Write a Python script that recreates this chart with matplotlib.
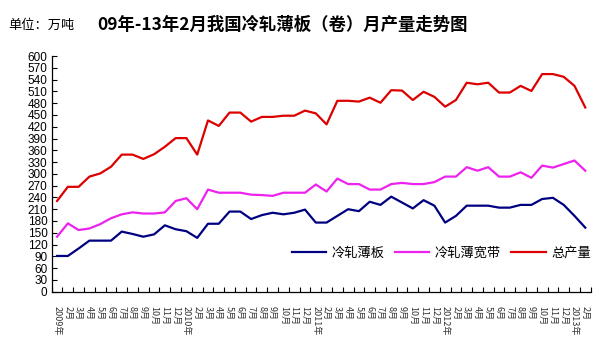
import matplotlib
matplotlib.use("Agg")
import matplotlib.pyplot as plt

plt.rcParams['font.family'] = ['Noto Sans CJK SC', 'DejaVu Sans']

months = ["2009年", "2月", "3月", "4月", "5月", "6月", "7月", "8月", "9月", "10月", "11月", "12月",
          "2010年", "2月", "3月", "4月", "5月", "6月", "7月", "8月", "9月", "10月", "11月", "12月",
          "2011年", "2月", "3月", "4月", "5月", "6月", "7月", "8月", "9月", "10月", "11月", "12月",
          "2012年", "2月", "3月", "4月", "5月", "6月", "7月", "8月", "9月", "10月", "11月", "12月",
          "2013年", "2月"]

sheet = [91, 91, 110, 130, 130, 130, 153, 147, 140, 146, 169, 159,
         154, 137, 173, 173, 204, 204, 185, 195, 201, 197, 201, 209,
         176, 176, 193, 210, 205, 229, 221, 242, 227, 212, 233, 219,
         176, 193, 219, 219, 219, 214, 214, 221, 221, 236, 239, 221,
         193, 163]

wide_strip = [140, 174, 157, 161, 172, 187, 197, 202, 199, 199, 202, 231,
              238, 210, 260, 252, 252, 252, 247, 246, 244, 252, 252, 252,
              273, 255, 288, 274, 274, 260, 260, 274, 277, 274, 274, 279,
              293, 293, 317, 308, 317, 293, 293, 304, 290, 321, 316, 325,
              334, 308]

total = [231, 267, 267, 293, 301, 318, 349, 349, 338, 350, 369, 391,
         391, 349, 436, 422, 456, 456, 433, 445, 445, 448, 448, 461,
         454, 426, 486, 486, 484, 494, 481, 513, 512, 488, 509, 496,
         471, 488, 532, 528, 532, 507, 507, 524, 511, 554, 554, 547,
         524, 469]

series_names = ["冷轧薄板", "冷轧薄宽带", "总产量"]
colors = ["#000080", "#EE22EE", "#DD0000"]

fig = plt.figure(figsize=(6.08, 3.63), dpi=100)
ax = fig.add_axes([0.085, 0.1964, 0.8865, 0.6493])

x = list(range(len(months)))
for vals, name, c in zip([sheet, wide_strip, total], series_names, colors):
    ax.plot(x, vals, color=c, lw=1.6, label=name)

ax.set_xlim(-0.5, len(months) - 0.5)
ax.set_ylim(0, 600)
ax.set_yticks(range(0, 601, 30))
ax.tick_params(axis='y', direction='in', length=3.5, width=0.8, labelsize=8.5, pad=3)
for lab in ax.get_yticklabels():
    lab.set_family(['Liberation Sans'])

ax.set_xticks([i - 0.5 for i in range(len(months) + 1)])
ax.set_xticklabels([])
ax.tick_params(axis='x', which='major', direction='in', length=3.5, width=0.8)
ax.set_xticks(x, minor=True)
ax.set_xticklabels(months, minor=True, rotation=270, fontsize=6.5, color='#333333')
ax.tick_params(axis='x', which='minor', length=0, pad=10)

for s in ['top', 'right']:
    ax.spines[s].set_visible(False)
for s in ['left', 'bottom']:
    ax.spines[s].set_linewidth(0.9)

ax.legend(ncol=3, frameon=False, loc='center', bbox_to_anchor=(0.723, 0.164),
          fontsize=9.5, handlelength=2.6, columnspacing=0.8, handletextpad=0.4)

fig.text(8 / 608, 1 - 25 / 363, "单位：万吨", fontsize=9.5, va='center', ha='left')
fig.text(97 / 608, 1 - 25 / 363, "09年-13年2月我国冷轧薄板（卷）月产量走势图",
         fontsize=12.5, fontweight='bold', va='center', ha='left')

fig.savefig("out.png", dpi=100)
